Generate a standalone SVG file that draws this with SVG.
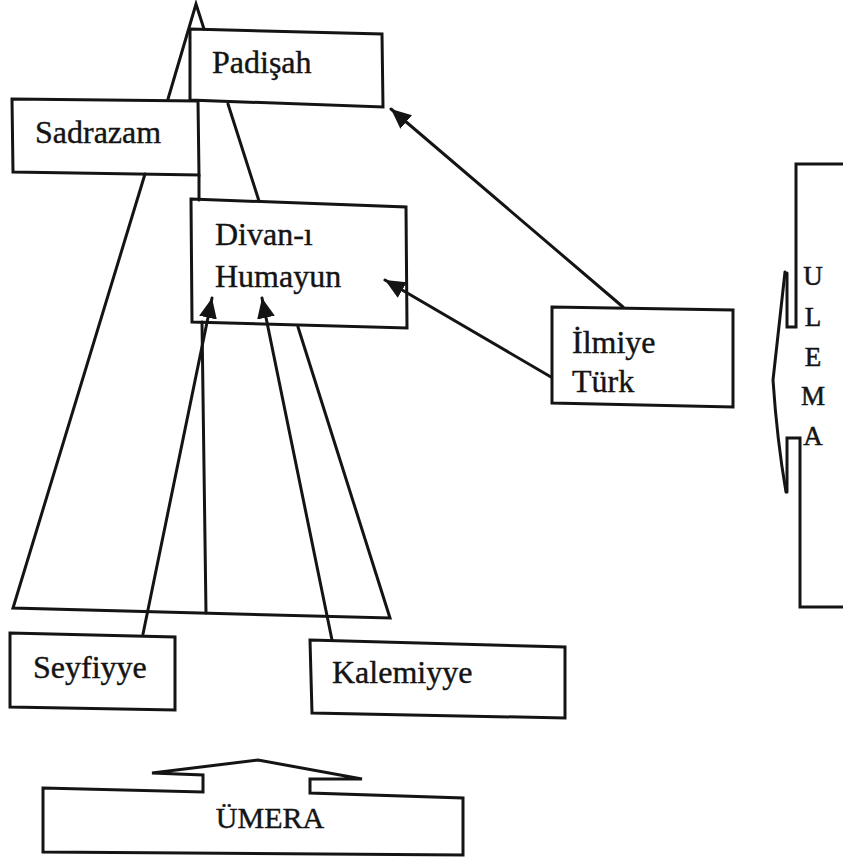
<svg xmlns="http://www.w3.org/2000/svg" width="843" height="865" viewBox="0 0 843 865">
<defs>
<style>
.box{fill:#fff;stroke:#141414;stroke-width:3;stroke-linejoin:miter}
.ln{fill:none;stroke:#141414;stroke-width:3;stroke-linecap:round;stroke-linejoin:miter}
.t{font-family:"Liberation Serif","DejaVu Serif",serif;font-size:32px;fill:#141414;stroke:#141414;stroke-width:0.4}
.u{font-family:"Liberation Serif","DejaVu Serif",serif;font-size:27px;fill:#141414;stroke:#141414;stroke-width:0.5;text-anchor:middle}
</style>
<marker id="ah" markerUnits="userSpaceOnUse" markerWidth="24" markerHeight="22" refX="20" refY="10" orient="auto" viewBox="0 0 24 22">
<path d="M0,1 L20,10 L0,19 z" fill="#141414"/>
</marker>
</defs>
<rect width="843" height="865" fill="#fff"/>
<g id="padisah">
<polygon class="box" points="190,29 382,34 383,107 190,100"/>
<text class="t" x="212" y="73">Padişah</text>
</g>
<g id="sadrazam">
<polygon class="box" points="12,99 198,101 199,175 13,172"/>
<text class="t" x="35" y="143">Sadrazam</text>
</g>
<g id="divan">
<polygon class="box" points="191,199 406,207 407,328 192,322"/>
<text class="t" x="215" y="245">Divan-ı</text>
<text class="t" x="215" y="287">Humayun</text>
</g>
<g id="ilmiye">
<polygon class="box" points="552,307 733,310 733,407 552,403"/>
<text class="t" x="572" y="353">İlmiye</text>
<text class="t" x="572" y="392">Türk</text>
</g>
<g id="seyfiyye">
<polygon class="box" points="10,633 175,637 175,710 10,707"/>
<text class="t" x="33" y="678">Seyfiyye</text>
</g>
<g id="kalemiyye">
<polygon class="box" points="310,640 565,647 565,718 312,713"/>
<text class="t" x="332" y="683">Kalemiyye</text>
</g>
<g id="umera">
<path class="box" d="M43,788 L203,792 L203,775 L152,773 L258,760 L362,779 L310,779 L310,793 L463,798 L463,855 L43,852 Z"/>
<text class="t" x="270" y="828" text-anchor="middle" style="font-size:30px">ÜMERA</text>
</g>
<g id="ulema">
<path class="ln" d="M843,164 L796,164 L796,327 L787,327 L787,273"/>
<path class="ln" d="M785,272 L773,380 Q777,440 786,492"/>
<path class="ln" d="M787,492 L787,438 L800,438 L800,607 L843,607"/>
<text class="u" x="813" y="285">U</text>
<text class="u" x="813" y="326">L</text>
<text class="u" x="813" y="366">E</text>
<text class="u" x="813" y="405">M</text>
<text class="u" x="813" y="445">A</text>
</g>
<g id="connectors">
<path class="ln" d="M168,99 L196,4 L204,29"/>
<path class="ln" d="M199,175 L199,200"/>
<path class="ln" d="M228,104 L259,201"/>
<path class="ln" d="M145,174 L13,608 L390,618 L298,327"/>
<path class="ln" d="M202,322 L206,613"/>
<line class="ln" x1="623" y1="307" x2="391" y2="109" marker-end="url(#ah)"/>
<line class="ln" x1="551" y1="377" x2="385" y2="280" marker-end="url(#ah)"/>
<line class="ln" x1="143" y1="634" x2="212" y2="298" marker-end="url(#ah)"/>
<line class="ln" x1="332" y1="640" x2="262" y2="298" marker-end="url(#ah)"/>
</g>
</svg>
